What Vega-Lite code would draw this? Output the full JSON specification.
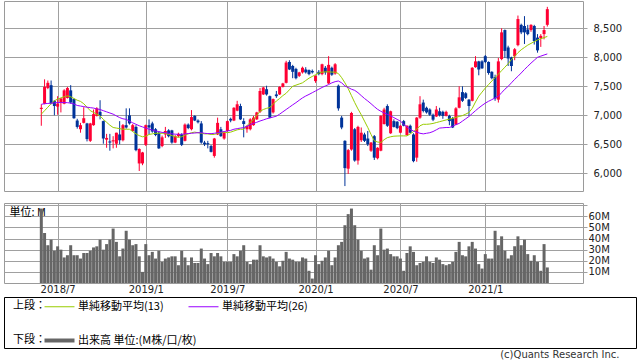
{
  "$schema": "https://vega.github.io/schema/vega-lite/v6.json",
  "padding": {"left": 3, "top": 0, "right": 0, "bottom": 0},
  "background": "#ffffff",
  "config": {
    "view": {"stroke": "#9a9a9a", "strokeWidth": 1},
    "axis": {"domain": false, "gridColor": "#a0a0a0", "gridOpacity": 1, "gridWidth": 1, "tickColor": "#a0a0a0", "labelFont": "DejaVu Sans", "labelFontSize": 10, "labelColor": "#222222"}
  },
  "title": {"text": "(c)Quants Research Inc.", "orient": "bottom", "anchor": "end", "font": "DejaVu Sans", "fontSize": 10, "fontWeight": "normal", "color": "#333333", "offset": 1, "dx": -17},
  "datasets": {
    "k": [
      {"d":"2018-05-28","o":7110,"h":7190,"l":6820,"c":7130,"v":67,"m13":7020,"m26":7190},
      {"d":"2018-06-04","o":7200,"h":7620,"l":7190,"c":7490,"v":45,"m13":7080,"m26":7200},
      {"d":"2018-06-11","o":7470,"h":7600,"l":7450,"c":7560,"v":34,"m13":7140,"m26":7205},
      {"d":"2018-06-18","o":7520,"h":7600,"l":7190,"c":7200,"v":39,"m13":7200,"m26":7210},
      {"d":"2018-06-25","o":7250,"h":7260,"l":7000,"c":7160,"v":29,"m13":7250,"m26":7215},
      {"d":"2018-07-02","o":7150,"h":7330,"l":7010,"c":7200,"v":33,"m13":7280,"m26":7220},
      {"d":"2018-07-09","o":7220,"h":7300,"l":7050,"c":7290,"v":30,"m13":7300,"m26":7220},
      {"d":"2018-07-16","o":7200,"h":7450,"l":7190,"c":7430,"v":23,"m13":7320,"m26":7220},
      {"d":"2018-07-23","o":7300,"h":7490,"l":7290,"c":7470,"v":25,"m13":7335,"m26":7218},
      {"d":"2018-07-30","o":7430,"h":7520,"l":7200,"c":7220,"v":34,"m13":7320,"m26":7210},
      {"d":"2018-08-06","o":7280,"h":7290,"l":6940,"c":6950,"v":25,"m13":7290,"m26":7195},
      {"d":"2018-08-13","o":6910,"h":6940,"l":6770,"c":6800,"v":25,"m13":7260,"m26":7170},
      {"d":"2018-08-20","o":6760,"h":6870,"l":6700,"c":6830,"v":22,"m13":7240,"m26":7160},
      {"d":"2018-08-27","o":6870,"h":7140,"l":6860,"c":6950,"v":27,"m13":7200,"m26":7150},
      {"d":"2018-09-03","o":6860,"h":6870,"l":6550,"c":6590,"v":27,"m13":7140,"m26":7140},
      {"d":"2018-09-10","o":6560,"h":6870,"l":6540,"c":6860,"v":29,"m13":7080,"m26":7132},
      {"d":"2018-09-17","o":6830,"h":7100,"l":6820,"c":7020,"v":32,"m13":7050,"m26":7125},
      {"d":"2018-09-24","o":6990,"h":7140,"l":6980,"c":7120,"v":33,"m13":7020,"m26":7110},
      {"d":"2018-10-01","o":7060,"h":7260,"l":6930,"c":6990,"v":39,"m13":6990,"m26":7100},
      {"d":"2018-10-08","o":6900,"h":6910,"l":6510,"c":6600,"v":30,"m13":6930,"m26":7080},
      {"d":"2018-10-15","o":6580,"h":6680,"l":6440,"c":6610,"v":35,"m13":6880,"m26":7060},
      {"d":"2018-10-22","o":6550,"h":6680,"l":6390,"c":6530,"v":39,"m13":6830,"m26":7040},
      {"d":"2018-10-29","o":6550,"h":6640,"l":6430,"c":6570,"v":49,"m13":6790,"m26":7020},
      {"d":"2018-11-05","o":6510,"h":6700,"l":6440,"c":6700,"v":37,"m13":6780,"m26":6990},
      {"d":"2018-11-12","o":6670,"h":6900,"l":6500,"c":6570,"v":24,"m13":6770,"m26":6960},
      {"d":"2018-11-19","o":6570,"h":6850,"l":6550,"c":6830,"v":31,"m13":6760,"m26":6940},
      {"d":"2018-11-26","o":6830,"h":7120,"l":6770,"c":6790,"v":47,"m13":6760,"m26":6930},
      {"d":"2018-12-03","o":7000,"h":7120,"l":6840,"c":6860,"v":39,"m13":6760,"m26":6900},
      {"d":"2018-12-10","o":6730,"h":6850,"l":6720,"c":6830,"v":34,"m13":6720,"m26":6870},
      {"d":"2018-12-17","o":6800,"h":6830,"l":6380,"c":6400,"v":35,"m13":6680,"m26":6845},
      {"d":"2018-12-24","o":6170,"h":6430,"l":6040,"c":6420,"v":24,"m13":6650,"m26":6820},
      {"d":"2018-12-31","o":6170,"h":6370,"l":6140,"c":6360,"v":10,"m13":6630,"m26":6800},
      {"d":"2019-01-07","o":6490,"h":6840,"l":6470,"c":6830,"v":35,"m13":6640,"m26":6780},
      {"d":"2019-01-14","o":6830,"h":6930,"l":6670,"c":6790,"v":25,"m13":6670,"m26":6760},
      {"d":"2019-01-21","o":6860,"h":6890,"l":6700,"c":6720,"v":28,"m13":6680,"m26":6745},
      {"d":"2019-01-28","o":6760,"h":6780,"l":6640,"c":6660,"v":22,"m13":6690,"m26":6730},
      {"d":"2019-02-04","o":6700,"h":6720,"l":6420,"c":6430,"v":29,"m13":6690,"m26":6720},
      {"d":"2019-02-11","o":6470,"h":6650,"l":6450,"c":6620,"v":19,"m13":6690,"m26":6705},
      {"d":"2019-02-18","o":6670,"h":6800,"l":6610,"c":6730,"v":22,"m13":6690,"m26":6700},
      {"d":"2019-02-25","o":6740,"h":6760,"l":6620,"c":6640,"v":23,"m13":6670,"m26":6690},
      {"d":"2019-03-04","o":6740,"h":6750,"l":6510,"c":6530,"v":24,"m13":6650,"m26":6680},
      {"d":"2019-03-11","o":6530,"h":6660,"l":6520,"c":6640,"v":24,"m13":6630,"m26":6675},
      {"d":"2019-03-18","o":6640,"h":6700,"l":6620,"c":6680,"v":16,"m13":6620,"m26":6672},
      {"d":"2019-03-25","o":6670,"h":6690,"l":6470,"c":6490,"v":29,"m13":6630,"m26":6672},
      {"d":"2019-04-01","o":6560,"h":6860,"l":6550,"c":6840,"v":23,"m13":6660,"m26":6680},
      {"d":"2019-04-08","o":6840,"h":6860,"l":6760,"c":6780,"v":16,"m13":6680,"m26":6685},
      {"d":"2019-04-15","o":6760,"h":7090,"l":6740,"c":6970,"v":23,"m13":6700,"m26":6690},
      {"d":"2019-04-22","o":6990,"h":7000,"l":6900,"c":6910,"v":18,"m13":6710,"m26":6695},
      {"d":"2019-04-29","o":6910,"h":6930,"l":6860,"c":6880,"v":18,"m13":6700,"m26":6700},
      {"d":"2019-05-06","o":6860,"h":6900,"l":6510,"c":6530,"v":31,"m13":6690,"m26":6700},
      {"d":"2019-05-13","o":6530,"h":6560,"l":6470,"c":6500,"v":22,"m13":6680,"m26":6690},
      {"d":"2019-05-20","o":6520,"h":6560,"l":6430,"c":6500,"v":17,"m13":6680,"m26":6685},
      {"d":"2019-05-27","o":6470,"h":6490,"l":6360,"c":6370,"v":27,"m13":6670,"m26":6684},
      {"d":"2019-06-03","o":6300,"h":6610,"l":6270,"c":6600,"v":24,"m13":6670,"m26":6690},
      {"d":"2019-06-10","o":6670,"h":6960,"l":6660,"c":6870,"v":27,"m13":6690,"m26":6700},
      {"d":"2019-06-17","o":6760,"h":6800,"l":6630,"c":6640,"v":24,"m13":6700,"m26":6710},
      {"d":"2019-06-24","o":6600,"h":6720,"l":6580,"c":6700,"v":19,"m13":6710,"m26":6720},
      {"d":"2019-07-01","o":6730,"h":6910,"l":6720,"c":6900,"v":19,"m13":6700,"m26":6730},
      {"d":"2019-07-08","o":6940,"h":6960,"l":6880,"c":6910,"v":19,"m13":6710,"m26":6740},
      {"d":"2019-07-15","o":6910,"h":7140,"l":6900,"c":7130,"v":26,"m13":6730,"m26":6760},
      {"d":"2019-07-22","o":7080,"h":7250,"l":7070,"c":7190,"v":24,"m13":6750,"m26":6770},
      {"d":"2019-07-29","o":7160,"h":7200,"l":6920,"c":6930,"v":29,"m13":6760,"m26":6780},
      {"d":"2019-08-05","o":6900,"h":6950,"l":6620,"c":6850,"v":34,"m13":6760,"m26":6787},
      {"d":"2019-08-12","o":6760,"h":6830,"l":6700,"c":6816,"v":19,"m13":6820,"m26":6810},
      {"d":"2019-08-19","o":6760,"h":6950,"l":6740,"c":6930,"v":17,"m13":6880,"m26":6840},
      {"d":"2019-08-26","o":6830,"h":6990,"l":6820,"c":6960,"v":21,"m13":6930,"m26":6860},
      {"d":"2019-09-02","o":6930,"h":7060,"l":6920,"c":7050,"v":21,"m13":7000,"m26":6880},
      {"d":"2019-09-09","o":7060,"h":7470,"l":7040,"c":7420,"v":34,"m13":7070,"m26":6902},
      {"d":"2019-09-16","o":7360,"h":7490,"l":7350,"c":7480,"v":24,"m13":7100,"m26":6920},
      {"d":"2019-09-23","o":7450,"h":7510,"l":7340,"c":7360,"v":23,"m13":7120,"m26":6940},
      {"d":"2019-09-30","o":7330,"h":7340,"l":6950,"c":6960,"v":24,"m13":7135,"m26":6955},
      {"d":"2019-10-07","o":7050,"h":7290,"l":7030,"c":7280,"v":22,"m13":7190,"m26":6970},
      {"d":"2019-10-14","o":7360,"h":7420,"l":7300,"c":7330,"v":19,"m13":7247,"m26":6985},
      {"d":"2019-10-21","o":7360,"h":7500,"l":7350,"c":7490,"v":15,"m13":7290,"m26":7020},
      {"d":"2019-10-28","o":7490,"h":7560,"l":7480,"c":7550,"v":20,"m13":7340,"m26":7060},
      {"d":"2019-11-04","o":7560,"h":7940,"l":7550,"c":7910,"v":28,"m13":7380,"m26":7100},
      {"d":"2019-11-11","o":7920,"h":7950,"l":7780,"c":7790,"v":22,"m13":7440,"m26":7140},
      {"d":"2019-11-18","o":7850,"h":7870,"l":7640,"c":7750,"v":21,"m13":7500,"m26":7180},
      {"d":"2019-11-25","o":7800,"h":7820,"l":7620,"c":7640,"v":19,"m13":7520,"m26":7218},
      {"d":"2019-12-02","o":7680,"h":7750,"l":7660,"c":7740,"v":19,"m13":7540,"m26":7260},
      {"d":"2019-12-09","o":7740,"h":7840,"l":7720,"c":7820,"v":23,"m13":7560,"m26":7300},
      {"d":"2019-12-16","o":7790,"h":7830,"l":7720,"c":7740,"v":22,"m13":7600,"m26":7333},
      {"d":"2019-12-23","o":7780,"h":7790,"l":7690,"c":7710,"v":11,"m13":7640,"m26":7360},
      {"d":"2019-12-30","o":7765,"h":7790,"l":7720,"c":7740,"v":4,"m13":7670,"m26":7390},
      {"d":"2020-01-06","o":7590,"h":7690,"l":7560,"c":7680,"v":25,"m13":7700,"m26":7420},
      {"d":"2020-01-13","o":7750,"h":7780,"l":7690,"c":7710,"v":17,"m13":7730,"m26":7450},
      {"d":"2020-01-20","o":7710,"h":7890,"l":7690,"c":7880,"v":20,"m13":7745,"m26":7480},
      {"d":"2020-01-27","o":7820,"h":7850,"l":7700,"c":7740,"v":23,"m13":7750,"m26":7506},
      {"d":"2020-02-03","o":7550,"h":8020,"l":7540,"c":7870,"v":29,"m13":7750,"m26":7530},
      {"d":"2020-02-10","o":7820,"h":7840,"l":7680,"c":7700,"v":16,"m13":7745,"m26":7560},
      {"d":"2020-02-17","o":7720,"h":7900,"l":7700,"c":7880,"v":23,"m13":7745,"m26":7580},
      {"d":"2020-02-24","o":7510,"h":7530,"l":7080,"c":7120,"v":34,"m13":7720,"m26":7592},
      {"d":"2020-03-02","o":6960,"h":6990,"l":6760,"c":6790,"v":37,"m13":7650,"m26":7560},
      {"d":"2020-03-09","o":6560,"h":6570,"l":5780,"c":6090,"v":52,"m13":7560,"m26":7506},
      {"d":"2020-03-16","o":6080,"h":6420,"l":5990,"c":6400,"v":62,"m13":7460,"m26":7480},
      {"d":"2020-03-23","o":6410,"h":7060,"l":6390,"c":7040,"v":67,"m13":7340,"m26":7450},
      {"d":"2020-03-30","o":6760,"h":6780,"l":6200,"c":6220,"v":52,"m13":7220,"m26":7430},
      {"d":"2020-04-06","o":6220,"h":6820,"l":6150,"c":6800,"v":39,"m13":7110,"m26":7390},
      {"d":"2020-04-13","o":6570,"h":6790,"l":6540,"c":6700,"v":29,"m13":7010,"m26":7340},
      {"d":"2020-04-20","o":6670,"h":6700,"l":6540,"c":6560,"v":22,"m13":6900,"m26":7290},
      {"d":"2020-04-27","o":6600,"h":6730,"l":6470,"c":6500,"v":23,"m13":6790,"m26":7247},
      {"d":"2020-05-04","o":6390,"h":6540,"l":6370,"c":6530,"v":12,"m13":6670,"m26":7200},
      {"d":"2020-05-11","o":6640,"h":6660,"l":6230,"c":6270,"v":34,"m13":6560,"m26":7150},
      {"d":"2020-05-18","o":6260,"h":6450,"l":6240,"c":6440,"v":25,"m13":6540,"m26":7103},
      {"d":"2020-05-25","o":6390,"h":7000,"l":6380,"c":6990,"v":49,"m13":6530,"m26":7070},
      {"d":"2020-06-01","o":6850,"h":7130,"l":6840,"c":7100,"v":30,"m13":6580,"m26":7040},
      {"d":"2020-06-08","o":7160,"h":7190,"l":6800,"c":6820,"v":31,"m13":6615,"m26":7017},
      {"d":"2020-06-15","o":6690,"h":7080,"l":6680,"c":7070,"v":26,"m13":6630,"m26":6990},
      {"d":"2020-06-22","o":6900,"h":6930,"l":6790,"c":6800,"v":24,"m13":6640,"m26":6960},
      {"d":"2020-06-29","o":6890,"h":6900,"l":6760,"c":6780,"v":24,"m13":6643,"m26":6930},
      {"d":"2020-07-06","o":6700,"h":6830,"l":6690,"c":6820,"v":22,"m13":6645,"m26":6900},
      {"d":"2020-07-13","o":6900,"h":6920,"l":6810,"c":6820,"v":11,"m13":6645,"m26":6845},
      {"d":"2020-07-20","o":6660,"h":6830,"l":6650,"c":6820,"v":27,"m13":6645,"m26":6800},
      {"d":"2020-07-27","o":6820,"h":6840,"l":6690,"c":6700,"v":33,"m13":6680,"m26":6758},
      {"d":"2020-08-03","o":6670,"h":6690,"l":6190,"c":6210,"v":28,"m13":6720,"m26":6730},
      {"d":"2020-08-10","o":6270,"h":6970,"l":6200,"c":6960,"v":16,"m13":6760,"m26":6710},
      {"d":"2020-08-17","o":6960,"h":7330,"l":6940,"c":7190,"v":18,"m13":6820,"m26":6690},
      {"d":"2020-08-24","o":7220,"h":7270,"l":7050,"c":7075,"v":19,"m13":6845,"m26":6680},
      {"d":"2020-08-31","o":7130,"h":7150,"l":7030,"c":7050,"v":24,"m13":6845,"m26":6690},
      {"d":"2020-09-07","o":7100,"h":7120,"l":6990,"c":7010,"v":19,"m13":6850,"m26":6700},
      {"d":"2020-09-14","o":7010,"h":7030,"l":6900,"c":6925,"v":18,"m13":6860,"m26":6720},
      {"d":"2020-09-21","o":6980,"h":7160,"l":6970,"c":7100,"v":23,"m13":6875,"m26":6750},
      {"d":"2020-09-28","o":7070,"h":7130,"l":6980,"c":7000,"v":21,"m13":6890,"m26":6780},
      {"d":"2020-10-05","o":7060,"h":7080,"l":6940,"c":6990,"v":17,"m13":6905,"m26":6785},
      {"d":"2020-10-12","o":6990,"h":7080,"l":6980,"c":7060,"v":16,"m13":6920,"m26":6790},
      {"d":"2020-10-19","o":6990,"h":7010,"l":6830,"c":6900,"v":17,"m13":6935,"m26":6790},
      {"d":"2020-10-26","o":6950,"h":6970,"l":6780,"c":6790,"v":19,"m13":6950,"m26":6810},
      {"d":"2020-11-02","o":6840,"h":7140,"l":6830,"c":7120,"v":28,"m13":6965,"m26":6840},
      {"d":"2020-11-09","o":7130,"h":7500,"l":7120,"c":7310,"v":37,"m13":6980,"m26":6860},
      {"d":"2020-11-16","o":7400,"h":7500,"l":7230,"c":7250,"v":25,"m13":6995,"m26":6900},
      {"d":"2020-11-23","o":7380,"h":7400,"l":7280,"c":7300,"v":24,"m13":7020,"m26":6940},
      {"d":"2020-11-30","o":7270,"h":7280,"l":6990,"c":7160,"v":33,"m13":7050,"m26":6980},
      {"d":"2020-12-07","o":7250,"h":7830,"l":7240,"c":7820,"v":37,"m13":7120,"m26":7030},
      {"d":"2020-12-14","o":7830,"h":8020,"l":7820,"c":7930,"v":31,"m13":7230,"m26":7080},
      {"d":"2020-12-21","o":7930,"h":7940,"l":7690,"c":7790,"v":17,"m13":7330,"m26":7127},
      {"d":"2020-12-28","o":7930,"h":7950,"l":7800,"c":7810,"v":13,"m13":7400,"m26":7170},
      {"d":"2021-01-04","o":8020,"h":8040,"l":7900,"c":7920,"v":26,"m13":7470,"m26":7210},
      {"d":"2021-01-11","o":7920,"h":7930,"l":7700,"c":7730,"v":22,"m13":7530,"m26":7242},
      {"d":"2021-01-18","o":7750,"h":7760,"l":7620,"c":7640,"v":22,"m13":7590,"m26":7270},
      {"d":"2021-01-25","o":7660,"h":7700,"l":7250,"c":7290,"v":47,"m13":7650,"m26":7300},
      {"d":"2021-02-01","o":7270,"h":7990,"l":7220,"c":7930,"v":34,"m13":7710,"m26":7328},
      {"d":"2021-02-08","o":7970,"h":8500,"l":7950,"c":8430,"v":42,"m13":7770,"m26":7390},
      {"d":"2021-02-15","o":8470,"h":8480,"l":7990,"c":8110,"v":29,"m13":7830,"m26":7450},
      {"d":"2021-02-22","o":8170,"h":8200,"l":7850,"c":7980,"v":22,"m13":7890,"m26":7500},
      {"d":"2021-03-01","o":8000,"h":8010,"l":7760,"c":7850,"v":25,"m13":7960,"m26":7560},
      {"d":"2021-03-08","o":8020,"h":8160,"l":7950,"c":8140,"v":33,"m13":8020,"m26":7620},
      {"d":"2021-03-15","o":8210,"h":8720,"l":8190,"c":8660,"v":42,"m13":8080,"m26":7673},
      {"d":"2021-03-22","o":8560,"h":8580,"l":8400,"c":8430,"v":34,"m13":8130,"m26":7730},
      {"d":"2021-03-29","o":8540,"h":8710,"l":8230,"c":8430,"v":39,"m13":8170,"m26":7790},
      {"d":"2021-04-05","o":8480,"h":8560,"l":8380,"c":8400,"v":26,"m13":8210,"m26":7845},
      {"d":"2021-04-12","o":8470,"h":8570,"l":8440,"c":8560,"v":20,"m13":8240,"m26":7900},
      {"d":"2021-04-19","o":8540,"h":8560,"l":8220,"c":8280,"v":25,"m13":8270,"m26":7950},
      {"d":"2021-04-26","o":8340,"h":8400,"l":8080,"c":8120,"v":19,"m13":8300,"m26":8000},
      {"d":"2021-05-03","o":8330,"h":8400,"l":8180,"c":8370,"v":11,"m13":8320,"m26":8020},
      {"d":"2021-05-10","o":8400,"h":8540,"l":8310,"c":8470,"v":35,"m13":8340,"m26":8040},
      {"d":"2021-05-17","o":8560,"h":8870,"l":8530,"c":8830,"v":14,"m13":8360,"m26":8058}
    ]
  },
  "vconcat": [
    {
      "spacing": 7,
      "vconcat": [
        {
          "width": 579,
          "height": 190,
          "data": {"name": "k"},
          "encoding": {
            "x": {
              "field": "d", "type": "temporal", "title": null,
              "scale": {"type": "utc", "nice": false, "padding": 0, "domain": [{"year": 2018, "month": 3, "date": 9, "utc": true}, {"year": 2021, "month": 8, "date": 1, "hours": 12, "utc": true}]},
              "axis": {"values": [{"year": 2018, "month": 7, "date": 2, "utc": true}, {"year": 2019, "month": 1, "date": 7, "utc": true}, {"year": 2019, "month": 7, "date": 1, "utc": true}, {"year": 2020, "month": 1, "date": 6, "utc": true}, {"year": 2020, "month": 7, "date": 6, "utc": true}, {"year": 2021, "month": 1, "date": 4, "utc": true}], "labels": false, "ticks": false, "grid": true, "title": null}
            }
          },
          "layer": [
            {
              "mark": {"type": "rule", "strokeWidth": 1},
              "encoding": {
                "y": {"field": "l", "type": "quantitative", "title": null, "scale": {"domain": [5695, 8971], "zero": false, "nice": false}, "axis": {"orient": "right", "values": [6000, 6500, 7000, 7500, 8000, 8500], "labelExpr": "format(datum.value, ',')", "grid": true, "tickSize": 4, "labelPadding": 6, "labelOverlap": false, "title": null}},
                "y2": {"field": "h"},
                "color": {"condition": {"test": "datum.c >= datum.o", "value": "#ff0033"}, "value": "#003399"}
              }
            },
            {
              "mark": {"type": "bar", "size": 3},
              "encoding": {
                "y": {"field": "o", "type": "quantitative", "title": null, "axis": {"orient": "right", "values": [6000, 6500, 7000, 7500, 8000, 8500], "labelExpr": "format(datum.value, ',')", "grid": true, "tickSize": 4, "labelPadding": 6, "labelOverlap": false, "title": null}},
                "y2": {"field": "c"},
                "color": {"condition": {"test": "datum.c >= datum.o", "value": "#ff0033"}, "value": "#003399"}
              }
            },
            {
              "mark": {"type": "line", "strokeWidth": 1},
              "encoding": {
                "y": {"field": "m13", "type": "quantitative", "title": null, "axis": {"orient": "right", "values": [6000, 6500, 7000, 7500, 8000, 8500], "labelExpr": "format(datum.value, ',')", "grid": true, "tickSize": 4, "labelPadding": 6, "labelOverlap": false, "title": null}},
                "stroke": {
                  "datum": "単純移動平均(13)", "type": "nominal",
                  "scale": {"domain": ["単純移動平均(13)", "単純移動平均(26)"], "range": ["#99cc00", "#9900ff"]},
                  "legend": {"orient": "none", "legendX": 9, "legendY": 300, "direction": "horizontal", "title": "上段：", "titleOrient": "left", "titleFont": "Noto Sans CJK JP", "titleFontSize": 11, "titleFontWeight": "normal", "titleColor": "#000000", "titlePadding": 8, "labelFont": "Noto Sans CJK JP", "labelFontSize": 11, "labelColor": "#000000", "symbolType": "M-3,0H3", "symbolSize": 100, "symbolStrokeWidth": 1, "labelOffset": 13, "columnPadding": 22, "padding": 0}
                }
              }
            },
            {
              "mark": {"type": "line", "strokeWidth": 1},
              "encoding": {
                "y": {"field": "m26", "type": "quantitative", "title": null, "axis": {"orient": "right", "values": [6000, 6500, 7000, 7500, 8000, 8500], "labelExpr": "format(datum.value, ',')", "grid": true, "tickSize": 4, "labelPadding": 6, "labelOverlap": false, "title": null}},
                "stroke": {"datum": "単純移動平均(26)", "type": "nominal"}
              }
            }
          ]
        },
        {
          "width": 579,
          "height": 80,
          "data": {"name": "k"},
          "mark": {"type": "bar", "size": 3},
          "encoding": {
            "x": {
              "field": "d", "type": "temporal", "title": null,
              "scale": {"type": "utc", "nice": false, "padding": 0, "domain": [{"year": 2018, "month": 3, "date": 9, "utc": true}, {"year": 2021, "month": 8, "date": 1, "hours": 12, "utc": true}]},
              "axis": {"values": [{"year": 2018, "month": 7, "date": 2, "utc": true}, {"year": 2019, "month": 1, "date": 7, "utc": true}, {"year": 2019, "month": 7, "date": 1, "utc": true}, {"year": 2020, "month": 1, "date": 6, "utc": true}, {"year": 2020, "month": 7, "date": 6, "utc": true}, {"year": 2021, "month": 1, "date": 4, "utc": true}], "labelExpr": "utcFormat(datum.value, '%Y/%-m')", "grid": true, "ticks": false, "labelPadding": 1, "labelFlush": false, "labelOverlap": false, "title": null}
            },
            "y": {
              "field": "v", "type": "quantitative",
              "scale": {"domain": [0, 72], "nice": false},
              "axis": {"orient": "right", "values": [10, 20, 30, 40, 50, 60, 70], "labelExpr": "datum.value < 65 ? datum.value + 'M' : ''", "grid": true, "tickSize": 4, "labelPadding": 1, "labelOverlap": false, "title": "単位: M", "titleAngle": 0, "titleX": -574, "titleY": 9, "titleAlign": "left", "titleBaseline": "middle", "titleFont": "Noto Sans CJK JP", "titleFontSize": 11, "titleFontWeight": "normal", "titleColor": "#000000"}
            },
            "fill": {
              "datum": "出来高 単位:(M株/口/枚)", "type": "nominal",
              "scale": {"range": ["#666666"]},
              "legend": {"orient": "none", "legendX": 9, "legendY": 334, "direction": "horizontal", "title": "下段：", "titleOrient": "left", "titleFont": "Noto Sans CJK JP", "titleFontSize": 11, "titleFontWeight": "normal", "titleColor": "#000000", "titlePadding": 8, "labelFont": "Noto Sans CJK JP", "labelFontSize": 11, "labelColor": "#000000", "symbolType": "M-3,-0.4H3V0.4H-3Z", "symbolSize": 100, "symbolStrokeWidth": 0, "labelOffset": 13, "padding": 0}
            }
          }
        }
      ]
    },
    {
      "width": 632,
      "height": 51,
      "view": {"stroke": "#000000"},
      "data": {"values": []},
      "mark": {"type": "point", "opacity": 0},
      "encoding": {}
    }
  ],
  "spacing": 1
}
